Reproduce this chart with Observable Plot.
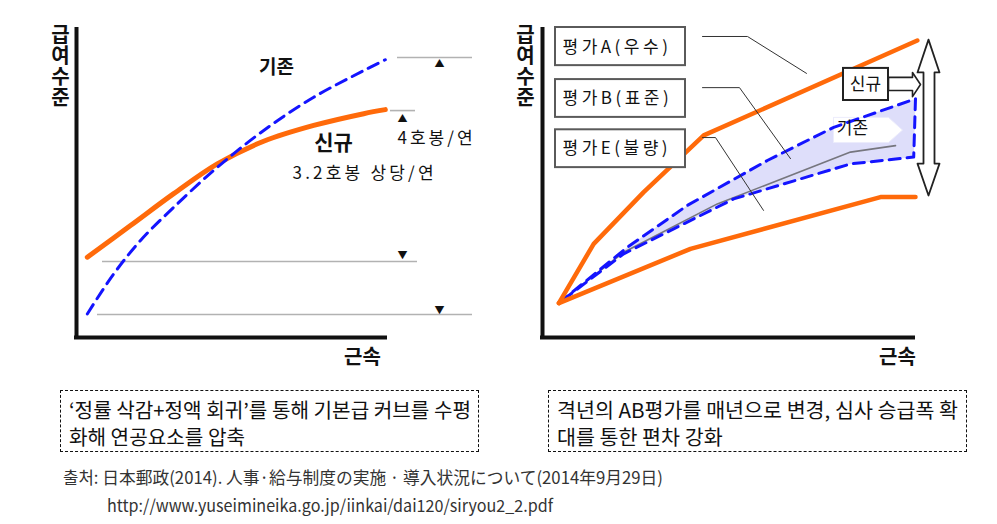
<!DOCTYPE html>
<html><head><meta charset="utf-8">
<script src="https://cdn.jsdelivr.net/npm/d3@7"></script>
<script src="https://cdn.jsdelivr.net/npm/@observablehq/plot@0.6"></script>
<style>
html,body{margin:0;padding:0;background:#fff;}
#page{position:relative;width:997px;height:524px;overflow:hidden;font-family:"Noto Sans CJK KR",sans-serif;}
#left{position:absolute;left:0;top:0;}
#right{position:absolute;left:490px;top:0;}
.box{position:absolute;top:390px;height:62px;box-sizing:border-box;border:1px dashed #111;padding:5px 0 0 8px;}
.row{height:27px;line-height:27px;white-space:nowrap;}
.fit{display:inline-block;white-space:nowrap;transform-origin:0 50%;}
.box .fit{font-size:20px;color:#111;}
.src{position:absolute;white-space:nowrap;font-size:17px;line-height:20px;color:#333;}
.jp{font-family:"Noto Sans CJK JP",sans-serif;}
</style>
</head><body>
<div id="page">
  <div id="left"></div>
  <div id="right"></div>
  <div class="box" style="left:60px;width:419px;" data-w="402">
    <div class="row"><span class="fit">‘정률 삭감+정액 회귀’를 통해 기본급 커브를 수평</span></div>
    <div class="row"><span class="fit">화해 연공요소를 압축</span></div>
  </div>
  <div class="box" style="left:548px;width:419px;" data-w="401">
    <div class="row"><span class="fit">격년의 AB평가를 매년으로 변경, 심사 승급폭 확</span></div>
    <div class="row"><span class="fit">대를 통한 편차 강화</span></div>
  </div>
  <div class="src" style="left:63px;top:467px;"><span class="fit one" data-w="600">출처: <span class="jp">日本郵政(2014). 人事·給与制度の実施 · 導入状況について(2014年9月29日)</span></span></div>
  <div class="src" style="left:107px;top:495px;"><span class="fit one" data-w="446">http://www.yuseimineika.go.jp/iinkai/dai120/siryou2_2.pdf</span></div>
</div>
<script>
// ---------- Left panel data (abstract units 0-100) ----------
const newCurveX = [2.7, 13.5, 24.3, 35.2, 46.8, 59.3, 71.8, 77.2];
const newCurveY = [25.9, 36.1, 46.4, 56.0, 63.3, 68.4, 72.2, 73.5];
const oldCurveX = [2.7, 9.3, 16, 24.3, 35.2, 46.8, 59.3, 71.8, 77.2];
const oldCurveY = [7.6, 20.5, 31.3, 42.0, 54.9, 66.8, 77.5, 86.1, 89.6];
const guideY  = [90.3, 73.2, 24.5, 7.4];
const guideX1 = [80.25, 78.5, 6.5, 5.25];
const guideX2 = [99, 84.75, 85.25, 99];
const markerX = [90.75, 81.5, 81.5, 90.75];
const markerY = [88.4, 70.6, 26.5, 8.7];
const markerSymbols = ["▲", "▲", "▼", "▼"];
const leftLabels = ["기존", "신규", "4호봉/연", "3.2호봉 상당/연"];
const leftLabelX = [50, 64.25, 80.25, 54];
const leftLabelY = [87.1, 62.6, 64.2, 52.9];
const axisTitleY = "급\n여\n수\n준";
const axisTitleX = "근속";

// ---------- Right panel data ----------
const gradeAX = [4.1, 12.8, 25.3, 40.3, 93.7];
const gradeAY = [11.1, 30.2, 46.9, 65.2, 95.8];
const gradeEX = [4.1, 37, 84.5, 93.25];
const gradeEY = [11.1, 28.6, 45.3, 45.3];
const oldUpperX = [4.1, 21.2, 36.2, 56.2, 72.8, 93.25];
const oldUpperY = [11.1, 29.1, 42.6, 57.1, 67.8, 77.0];
const oldLowerX = [4.1, 20.3, 47.8, 77, 92.8];
const oldLowerY = [11.1, 27, 44.7, 56, 58.2];
const gradeBX = [4.1, 20.3, 43.7, 77, 88.25];
const gradeBY = [11.1, 27.5, 43.1, 59.8, 61.9];
const boxLabels = ["평가A(우수)", "평가B(표준)", "평가E(불량)"];
const boxTop = [100, 83.2, 67];
const boxBottom = [87.7, 71, 54.8];
const boxTextY = [93.5, 77.1, 61.0];
const leaderX = [[40, 51.25, 66], [40, 49.25, 62], [40, 43.25, 55.25]];
const leaderY = [[97.1, 97.1, 85.2], [80.6, 80.6, 57.7], [64.5, 64.5, 41]];
const doubleArrowX = [96.5, 99.25, 98, 98, 99.25, 96.5, 93.75, 95.25, 95.25, 93.75, 96.5];
const doubleArrowY = [96.1, 85.5, 85.5, 56.1, 56.1, 45.8, 56.1, 56.1, 85.5, 85.5, 96.1];
const newArrowX = [86.5, 92.5, 92.5, 94.5, 92.5, 92.5, 86.5, 86.5];
const newArrowY = [83.9, 83.9, 85.5, 81.6, 77.7, 79.7, 79.7, 83.9];
const oldArrowX = [72.75, 86.5, 90, 86.5, 72.75, 72.75];
const oldArrowY = [71, 71, 66.9, 62.9, 62.9, 71];

const pts = (xs, ys) => xs.map((x, i) => ({x, y: ys[i]}));
const FONT = '"Noto Sans CJK KR", sans-serif';
const ORANGE = "#ff6a0a", BLUE = "#1414ff";

function base(width, marginLeft, marginRight, marks) {
  return Plot.plot({
    width, height: 380, marginTop: 27, marginBottom: 43, marginLeft, marginRight,
    x: {domain: [0, 100], axis: null}, y: {domain: [0, 100], axis: null},
    style: {fontFamily: FONT, background: "transparent", overflow: "visible"},
    marks
  });
}
function spacing(svg, map) {
  d3.select(svg).selectAll("text").each(function () {
    const t = this.textContent;
    if (map[t] != null) this.setAttribute("letter-spacing", map[t]);
  });
}

// ---------- Left chart ----------
const guides = guideY.map((y, i) => ({y, x1: guideX1[i], x2: guideX2[i]}));
const markers = markerX.map((x, i) => ({x, y: markerY[i], t: markerSymbols[i]}));
const leftText = leftLabels.map((t, i) => ({t, x: leftLabelX[i], y: leftLabelY[i]}));

const left = base(490, 76, 14, [
  Plot.ruleY(guides, {y: "y", x1: "x1", x2: "x2", stroke: "#b2b2b2", strokeWidth: 1.6}),
  Plot.text(markers, {x: "x", y: "y", text: "t", fontSize: 10, fill: "#111"}),
  Plot.line(pts(newCurveX, newCurveY), {x: "x", y: "y", stroke: ORANGE, strokeWidth: 5, curve: "catmull-rom"}),
  Plot.line(pts(oldCurveX, oldCurveY), {x: "x", y: "y", stroke: BLUE, strokeWidth: 3, strokeDasharray: "11,7", curve: "catmull-rom"}),
  Plot.ruleX([0], {y1: 0, y2: 100, strokeWidth: 4, stroke: "#111"}),
  Plot.ruleY([0], {x1: -0.5, x2: 77.75, strokeWidth: 4, stroke: "#111"}),
  Plot.text(leftText.slice(0, 2), {x: "x", y: "y", text: "t", fontSize: (d) => d.t === "신규" ? 21 : 19, fontWeight: "bold", fill: "#111"}),
  Plot.text(leftText.slice(2), {x: "x", y: "y", text: "t", fontSize: 17, textAnchor: "start", fill: "#111"}),
  Plot.text([axisTitleY], {x: -4, y: 100.3, text: (d) => d, fontSize: 20, fontWeight: "bold", lineHeight: 1.06, lineAnchor: "top", fill: "#111"}),
  Plot.text([axisTitleX], {x: 71.5, y: -6.45, text: (d) => d, fontSize: 20, fontWeight: "bold", fill: "#111"})
]);
spacing(left, {"4호봉/연": 3, "3.2호봉 상당/연": 3.2});
document.getElementById("left").append(left);

// ---------- Right chart ----------
const bandPolygon = [...pts(oldUpperX, oldUpperY), ...pts(oldLowerX, oldLowerY).reverse()];
const boxes = boxLabels.map((t, i) => ({t, x1: 3.25, x2: 35.75, y1: boxBottom[i], y2: boxTop[i], ty: boxTextY[i]}));
const leaders = leaderX.flatMap((xs, k) => xs.map((x, i) => ({x, y: leaderY[k][i], k})));

const right = base(507, 52, 55, [
  Plot.line(bandPolygon, {x: "x", y: "y", fill: "#dedefa", stroke: "none"}),
  Plot.line(pts(oldArrowX, oldArrowY), {x: "x", y: "y", fill: "white", stroke: "#ececfc", strokeWidth: 1}),
  Plot.line(pts(gradeBX, gradeBY), {x: "x", y: "y", stroke: "#76767e", strokeWidth: 1.6}),
  Plot.line(bandPolygon, {x: "x", y: "y", stroke: BLUE, strokeWidth: 3, strokeDasharray: "11,7"}),
  Plot.line(pts(gradeAX, gradeAY), {x: "x", y: "y", stroke: ORANGE, strokeWidth: 4.5}),
  Plot.line(pts(gradeEX, gradeEY), {x: "x", y: "y", stroke: ORANGE, strokeWidth: 4.5}),
  Plot.line(leaders, {x: "x", y: "y", z: "k", stroke: "#333", strokeWidth: 1}),
  Plot.rect(boxes, {x1: "x1", x2: "x2", y1: "y1", y2: "y2", fill: "white", stroke: "#5a5a5a", strokeWidth: 2}),
  Plot.text(boxes, {x: 5, y: "ty", text: "t", fontSize: 17, textAnchor: "start", fill: "#111"}),
  Plot.rect([0], {x1: 75.25, x2: 86.5, y1: 76.45, y2: 86.8, fill: "white", stroke: "#222", strokeWidth: 2}),
  Plot.line(pts(newArrowX, newArrowY), {x: "x", y: "y", fill: "white", stroke: "#222", strokeWidth: 1.6}),
  Plot.line(pts(doubleArrowX, doubleArrowY), {x: "x", y: "y", fill: "white", stroke: "#222", strokeWidth: 1.8}),
  Plot.text(["신규"], {x: 80.75, y: 81.6, text: (d) => d, fontSize: 17, fill: "#111"}),
  Plot.text(["기존"], {x: 77.5, y: 67.4, text: (d) => d, fontSize: 17, fill: "#111"}),
  Plot.ruleX([0], {y1: 0, y2: 100, strokeWidth: 4, stroke: "#111"}),
  Plot.ruleY([0], {x1: -0.5, x2: 93.25, strokeWidth: 4, stroke: "#111"}),
  Plot.text([axisTitleY], {x: -4.25, y: 100.3, text: (d) => d, fontSize: 20, fontWeight: "bold", lineHeight: 1.06, lineAnchor: "top", fill: "#111"}),
  Plot.text([axisTitleX], {x: 88.75, y: -6.45, text: (d) => d, fontSize: 20, fontWeight: "bold", fill: "#111"})
]);
spacing(right, {"평가A(우수)": 3.5, "평가B(표준)": 3.5, "평가E(불량)": 3.5});
document.getElementById("right").append(right);

// ---------- fit HTML text widths ----------
function fit() {
  document.querySelectorAll(".box").forEach((box) => {
    const spans = box.querySelectorAll(".fit");
    spans.forEach((s) => (s.style.transform = "none"));
    const w = spans[0].getBoundingClientRect().width;
    const k = +box.dataset.w / w;
    spans.forEach((s) => (s.style.transform = `scaleX(${k})`));
  });
  document.querySelectorAll(".fit.one").forEach((s) => {
    s.style.transform = "none";
    const w = s.getBoundingClientRect().width;
    s.style.transform = `scaleX(${+s.dataset.w / w})`;
  });
}
fit();
if (document.fonts && document.fonts.ready) document.fonts.ready.then(fit);
</script>
</body></html>
